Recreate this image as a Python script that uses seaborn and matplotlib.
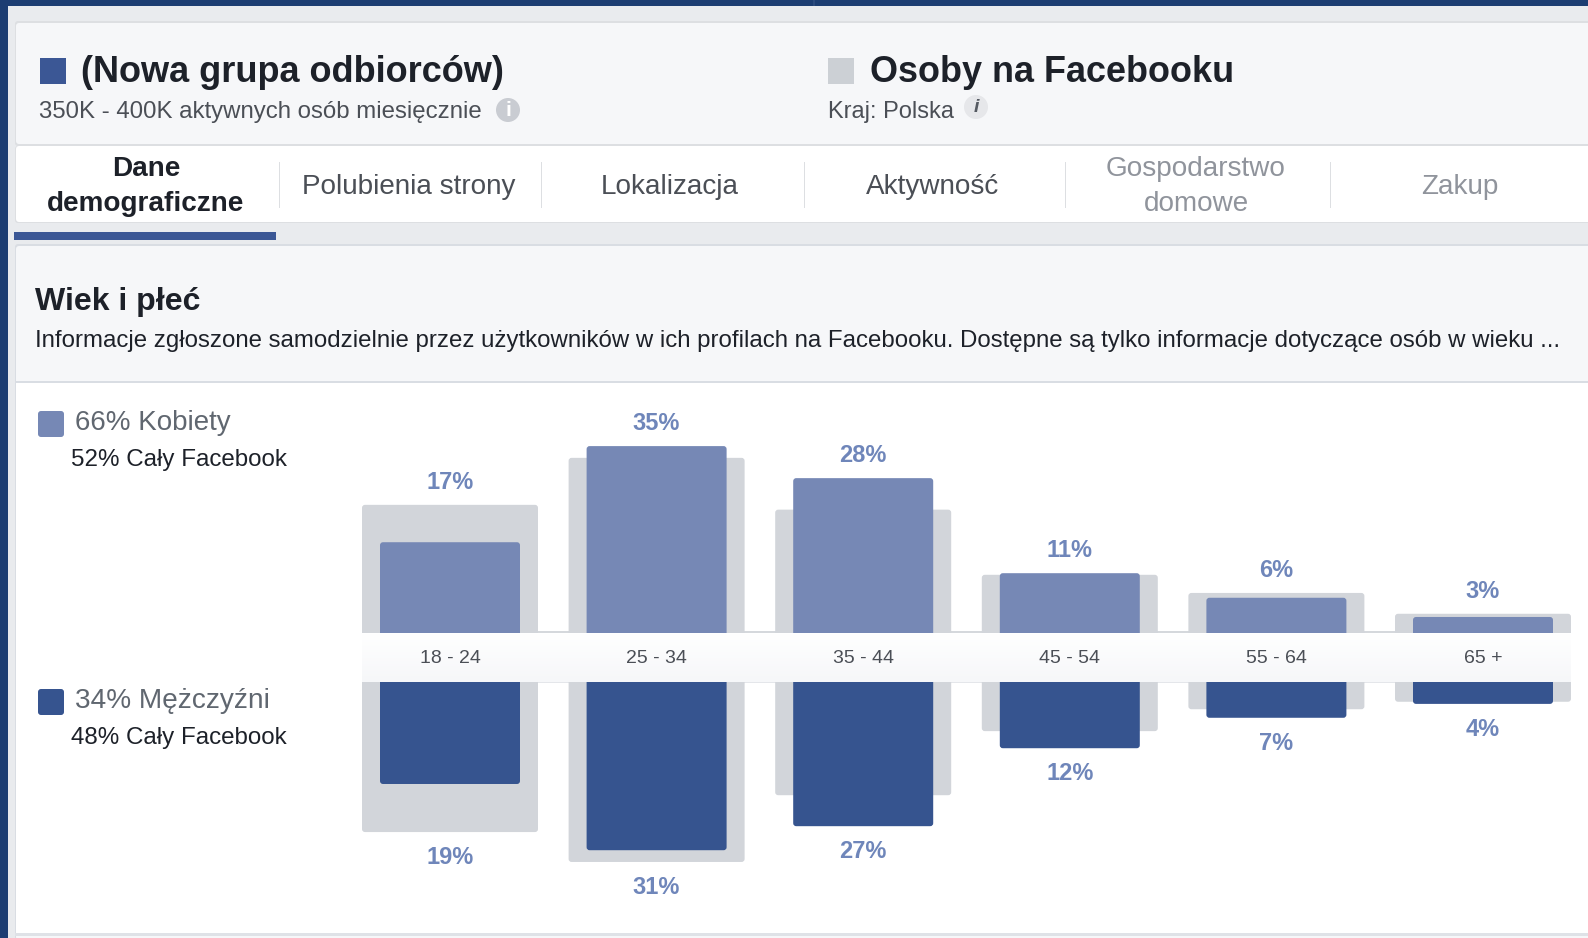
import numpy as np
import pandas as pd
import matplotlib
matplotlib.use("Agg")
import matplotlib.pyplot as plt
from matplotlib.patches import Rectangle, FancyBboxPatch, Circle
import seaborn as sns

W, H = 1588, 938

# ---- data ----
age_groups = ["18 - 24", "25 - 34", "35 - 44", "45 - 54", "55 - 64", "65 +"]
women_labels = [17, 35, 28, 11, 6, 3]
men_labels = [19, 31, 27, 12, 7, 4]
women_bar = [17.0, 35.0, 29.0, 11.2, 6.6, 3.0]
men_bar = [19.1, 31.5, 27.0, 12.4, 6.7, 4.1]
women_facebook = [24.0, 32.8, 23.1, 10.9, 7.5, 3.6]
men_facebook = [28.1, 33.7, 21.2, 9.2, 5.1, 3.7]
tabs = ["Dane\ndemograficzne", "Polubienia strony", "Lokalizacja", "Aktywność",
        "Gospodarstwo\ndomowe", "Zakup"]

C_WOMEN, C_MEN, C_GRAY = "#7688b5", "#36548f", "#d2d5da"
C_LABEL = "#6f86ba"

sns.set_theme(style="white")
plt.rcParams["font.family"] = ["Liberation Sans", "DejaVu Sans"]
plt.rcParams["axes.unicode_minus"] = False

fig = plt.figure(figsize=(W / 100, H / 100), dpi=100, facecolor="#e9ebee")

# ---- page chrome, in pixel coordinates ----
bg = fig.add_axes([0, 0, 1, 1], zorder=0)
bg.set_axis_off()


def box(x0, y0, x1, y1, color, r=0, ax=bg, z=1):
    if r:
        ax.add_patch(FancyBboxPatch((x0, y0), x1 - x0, y1 - y0,
                                    boxstyle=f"round,pad=0,rounding_size={r}",
                                    fc=color, ec="none", zorder=z))
    else:
        ax.add_patch(Rectangle((x0, y0), x1 - x0, y1 - y0, fc=color, ec="none", zorder=z))


def txt(x, y, s, size, color, weight="normal", ha="left", va="baseline", **kw):
    bg.text(x, y, s, fontsize=size, color=color, fontweight=weight, ha=ha, va=va, zorder=6, **kw)


# gradient of the age band
grad = np.linspace(1.0, 0.0, 50)[:, None, None] * (np.array([255, 255, 255]) - np.array([246, 247, 249])) / 255
grad = grad + np.array([246, 247, 249]) / 255
bg.imshow(grad, extent=(362, 1571, 682, 634), aspect="auto", zorder=3, interpolation="bilinear")
bg.set_xlim(0, W)
bg.set_ylim(H, 0)

box(0, 0, W, 6, "#1c3d72", z=5)
box(0, 0, 8, H, "#1c3d72", z=5)
box(813, 0, 815, 6, "#2b4a7d", z=6)

box(15, 21, W + 10, 146, "#dddfe2", r=3)
box(16, 23, W + 10, 144, "#f6f7f9", r=3)
box(15, 146, W + 10, 223, "#dddfe2", r=3)
box(16, 146, W + 10, 222, "#ffffff", r=3)
box(14, 232, 276, 240, "#3b5795", z=2)
box(15, 244, W + 10, 940, "#d9dde3", r=3)
box(16, 246, W + 10, 940, "#f6f7f9", r=3, z=1.1)
box(16, 381, W + 10, 383, "#d9dde3", z=1.2)
box(16, 383, W + 10, 933, "#ffffff", z=1.2)
box(15, 933, W + 10, 936, "#dfe2e7", z=1.2)

box(40, 58, 66, 84, "#3b5795")
box(828, 58, 854, 84, "#ccd0d5")
txt(81, 82, "(Nowa grupa odbiorców)", 26, "#1d2129", "bold")
txt(39, 118, "350K - 400K aktywnych osób miesięcznie", 17.25, "#4b4f56")
bg.add_patch(Circle((508, 110), 12, fc="#c9ccd2", ec="none", zorder=2))
txt(508, 110, "i", 15, "#ffffff", "bold", ha="center", va="center")
txt(870, 82, "Osoby na Facebooku", 25.9, "#1d2129", "bold")
txt(828, 118, "Kraj: Polska", 17, "#4b4f56")
bg.add_patch(Circle((976, 107), 12, fc="#e6e7ea", ec="none", zorder=2))
txt(976, 107, "i", 14, "#555a62", "bold", ha="center", va="center", style="italic")

tab_x = [146, 408.5, 670, 932.5, 1196, 1460]
tab_colors = ["#1d2129", "#4b4f56", "#4b4f56", "#4b4f56", "#90949c", "#90949c"]
for i, (label, x, c) in enumerate(zip(tabs, tab_x, tab_colors)):
    lines = label.split("\n")
    ys = [176, 211] if len(lines) == 2 else [194]
    for line, y in zip(lines, ys):
        txt(x, y, line, 20.1, c, "bold" if i == 0 else "normal", ha="center")
for x in [279, 541, 804, 1065, 1330]:
    box(x - 0.5, 162, x + 0.5, 208, "#dddfe2", z=2)

txt(35, 310, "Wiek i płeć", 23, "#1d2129", "bold")
txt(35, 347, "Informacje zgłoszone samodzielnie przez użytkowników w ich profilach na Facebooku. "
             "Dostępne są tylko informacje dotyczące osób w wieku ...", 17.3, "#1d2129")

box(38, 411, 64, 437, C_WOMEN, r=3, z=2)
txt(75, 430, "66% Kobiety", 20, "#606770")
txt(71, 466, "52% Cały Facebook", 17.4, "#1d2129")
box(38, 689, 64, 715, C_MEN, r=3, z=2)
txt(75, 708, "34% Mężczyźni", 20.2, "#606770")
txt(71, 744, "48% Cały Facebook", 17.4, "#1d2129")

# baseline line and band edges
box(362, 631, 1571, 633.5, "#d5d8dc", z=2)
box(362, 682, 1571, 683, "#e4e6ea", z=4)

# ---- chart ----
PX_PER_UNIT = 5.34
X_LEFT, X_RIGHT = 362, 1571
Y_TOP_BASE, Y_BOT_BASE = 633, 682
UNIT_X = (1483 - 450) / 5
XLIM = (-(450 - X_LEFT) / UNIT_X, 5 + (X_RIGHT - 1483) / UNIT_X)


def rect(x0, y0, x1, y1):
    return [x0 / W, 1 - y1 / H, (x1 - x0) / W, (y1 - y0) / H]


df = pd.DataFrame({
    "age": age_groups,
    "women": women_bar, "men": men_bar,
    "women_fb": women_facebook, "men_fb": men_facebook,
})

ax_top = fig.add_axes(rect(X_LEFT, 390, X_RIGHT, Y_TOP_BASE), zorder=2)
ax_bot = fig.add_axes(rect(X_LEFT, Y_BOT_BASE, X_RIGHT, 932), zorder=2)


def draw(ax, gray, main, color, labels, y_span, offset_px):
    sns.barplot(data=df, x="age", y=gray, color=C_GRAY, width=176 / UNIT_X, saturation=1, ax=ax, zorder=1)
    sns.barplot(data=df, x="age", y=main, color=color, width=140 / UNIT_X, saturation=1, ax=ax, zorder=2)
    ax.set_xlim(*XLIM)
    ax.set_ylim(0, y_span / PX_PER_UNIT)
    ax.patch.set_alpha(0)
    sns.despine(ax=ax, left=True, bottom=True)
    ax.set_xlabel("")
    ax.set_ylabel("")
    ax.set_yticks([])
    # round the outer corners of the bars the library drew
    for bar in list(ax.patches):
        x, w, h, z, fc = bar.get_x(), bar.get_width(), bar.get_height(), bar.get_zorder(), bar.get_facecolor()
        r = 3 / UNIT_X
        ax.add_patch(FancyBboxPatch((x, -2), w, h + 2, boxstyle=f"round,pad=0,rounding_size={r}",
                                    mutation_aspect=(3 / PX_PER_UNIT) / r, fc=fc, ec="none", zorder=z))
        bar.set_visible(False)
    for i, lab in enumerate(labels):
        top = max(df[gray][i], df[main][i])
        ax.annotate(f"{lab}%", (i, top), xytext=(0, offset_px * 0.72), textcoords="offset points",
                    ha="center", va="center", fontsize=17, fontweight="bold", color=C_LABEL,
                    annotation_clip=False)


draw(ax_top, "women_fb", "women", C_WOMEN, women_labels, Y_TOP_BASE - 390, 22.5)
draw(ax_bot, "men_fb", "men", C_MEN, men_labels, 932 - Y_BOT_BASE, -25.5)
ax_bot.invert_yaxis()
ax_bot.set_xticks([])

ax_top.set_xticks(range(len(age_groups)), age_groups, fontsize=14, color="#4b4f56")
ax_top.tick_params(axis="x", length=0, pad=(657 - 633 - 7) * 0.72)
for t in ax_top.get_xticklabels():
    t.set_zorder(10)

fig.savefig("out.png", dpi=100, facecolor=fig.get_facecolor())
